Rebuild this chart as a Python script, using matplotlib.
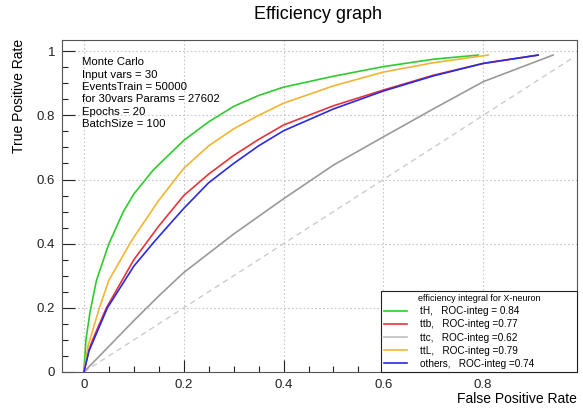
import numpy as np
import matplotlib
matplotlib.use('Agg')
import matplotlib.pyplot as plt
from matplotlib.ticker import MultipleLocator, FixedLocator

plt.rcParams['font.family'] = ['Liberation Sans', 'DejaVu Sans']

# ROC points per class (false positive rate, true positive rate)
fpr_tH = [0, 0.004, 0.012, 0.025, 0.05, 0.079, 0.1, 0.139, 0.2, 0.25, 0.3, 0.35, 0.4, 0.5, 0.6, 0.7, 0.79]
tpr_tH = [0, 0.10, 0.185, 0.285, 0.40, 0.50, 0.555, 0.63, 0.722, 0.78, 0.828, 0.862, 0.888, 0.922, 0.952, 0.975, 0.988]

fpr_ttb = [0, 0.01, 0.02, 0.045, 0.1, 0.15, 0.2, 0.25, 0.3, 0.35, 0.4, 0.5, 0.6, 0.7, 0.8, 0.91]
tpr_ttb = [0, 0.07, 0.11, 0.2, 0.35, 0.455, 0.55, 0.617, 0.675, 0.725, 0.77, 0.83, 0.879, 0.925, 0.962, 0.988]

fpr_ttc = [0, 0.05, 0.1, 0.15, 0.2, 0.3, 0.4, 0.5, 0.6, 0.7, 0.8, 0.94]
tpr_ttc = [0, 0.08, 0.16, 0.237, 0.31, 0.43, 0.54, 0.645, 0.733, 0.82, 0.905, 0.988]

fpr_ttL = [0, 0.008, 0.031, 0.05, 0.092, 0.1, 0.15, 0.2, 0.25, 0.3, 0.35, 0.4, 0.5, 0.6, 0.7, 0.81]
tpr_ttL = [0, 0.08, 0.2, 0.286, 0.40, 0.42, 0.535, 0.635, 0.705, 0.758, 0.8, 0.838, 0.892, 0.935, 0.964, 0.988]

fpr_others = [0, 0.01, 0.047, 0.1, 0.143, 0.2, 0.25, 0.3, 0.35, 0.4, 0.5, 0.6, 0.7, 0.8, 0.91]
tpr_others = [0, 0.065, 0.2, 0.33, 0.41, 0.51, 0.59, 0.65, 0.705, 0.752, 0.82, 0.876, 0.923, 0.962, 0.988]

diag = [0, 0.976]

labels = ['tH,   ROC-integ = 0.84', 'ttb,   ROC-integ =0.77', 'ttc,   ROC-integ =0.62',
          'ttL,   ROC-integ =0.79', 'others,   ROC-integ =0.74']
colors = ['#2ecc2e', '#e8333a', '#9a9a9a', '#f2b533', '#2a2ae0']
legend_colors = ['#2ecc2e', '#e8333a', '#c0c0c0', '#f2b533', '#2a2ae0']

info_lines = ['Monte Carlo', 'Input vars = 30', 'EventsTrain = 50000',
              'for 30vars Params = 27602', 'Epochs = 20', 'BatchSize = 100']

fig = plt.figure(figsize=(5.83, 4.09), dpi=100)
ax = fig.add_axes([0.1063, 0.0905, 0.8834, 0.8117])

ax.plot(diag, diag, color='#cccccc', lw=1.0, ls=(0, (4, 3)))
curves = [(fpr_tH, tpr_tH), (fpr_ttb, tpr_ttb), (fpr_ttc, tpr_ttc),
          (fpr_ttL, tpr_ttL), (fpr_others, tpr_others)]
for (x, y), c in zip(curves, colors):
    ax.plot(x, y, color=c, lw=1.2, solid_joinstyle='round')

ax.set_xlim(-0.044, 0.988)
ax.set_ylim(0, 1.035)

ax.xaxis.set_major_locator(FixedLocator([0, 0.2, 0.4, 0.6, 0.8]))
ax.xaxis.set_minor_locator(MultipleLocator(0.05))
ax.yaxis.set_major_locator(FixedLocator([0, 0.2, 0.4, 0.6, 0.8, 1.0]))
ax.yaxis.set_minor_locator(MultipleLocator(0.05))
ax.set_xticklabels(['0', '0.2', '0.4', '0.6', '0.8'])
ax.set_yticklabels(['0', '0.2', '0.4', '0.6', '0.8', '1'])
ax.tick_params(which='both', direction='in', labelsize=9.5, colors='#222222')
ax.tick_params(which='major', length=9, width=0.8)
ax.tick_params(which='minor', length=4.5, width=0.8)
ax.tick_params(axis='x', pad=5)
ax.tick_params(axis='y', pad=5)
ax.grid(True, which='major', color='#c8c8c8', ls=(0, (1.5, 2)), lw=0.8)
for s in ax.spines.values():
    s.set_color('#555555')
    s.set_linewidth(0.8)

fig.text(0.545, 0.965, 'Efficiency graph', ha='center', va='center', fontsize=13)
fig.text(0.99, 0.024, 'False Positive Rate', ha='right', va='center', fontsize=10)
fig.text(0.033, 0.905, 'True Positive Rate', ha='center', va='top', rotation=90, fontsize=10)

ax.text(0.038, 0.948, '\n'.join(info_lines), transform=ax.transAxes, ha='left', va='top',
        fontsize=8.2, linespacing=1.3)

leg_handles = [plt.Line2D([], [], color=c, lw=1.2) for c in legend_colors]
leg = ax.legend(leg_handles, labels, loc='lower left', bbox_to_anchor=(0.619, 0.0, 0.381, 0.256),
                mode='expand', borderaxespad=0, fontsize=7.2, title='efficiency integral for X-neuron',
                title_fontsize=6.5, fancybox=False, edgecolor='#222222', framealpha=1,
                handlelength=2.3, handletextpad=1.3, labelspacing=0.32, borderpad=0.3)
leg.get_frame().set_linewidth(0.8)

fig.savefig('out.png', dpi=100)
